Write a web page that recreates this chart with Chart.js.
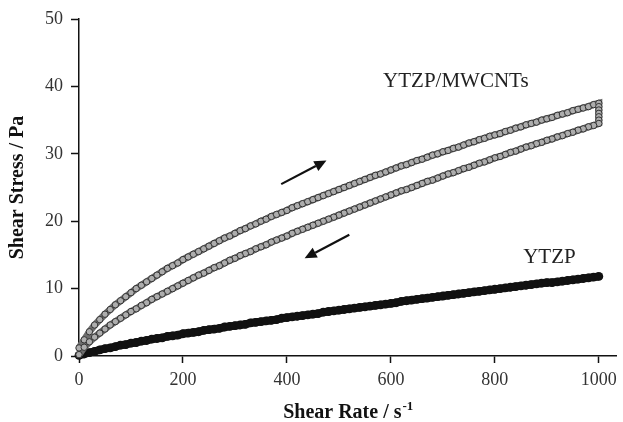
<!DOCTYPE html>
<html>
<head>
<meta charset="utf-8">
<script src="https://cdn.jsdelivr.net/npm/chart.js@4"></script>
<style>
  body { margin: 0; background: #fff; }
</style>
</head>
<body>
<canvas id="rheoChart" width="623" height="422"></canvas>
<script>
// shear rate (s^-1), one reading every 10
const shearRate = [
  0, 10, 20, 30, 40, 50, 60, 70, 80, 90, 100,
  110, 120, 130, 140, 150, 160, 170, 180, 190, 200,
  210, 220, 230, 240, 250, 260, 270, 280, 290, 300,
  310, 320, 330, 340, 350, 360, 370, 380, 390, 400,
  410, 420, 430, 440, 450, 460, 470, 480, 490, 500,
  510, 520, 530, 540, 550, 560, 570, 580, 590, 600,
  610, 620, 630, 640, 650, 660, 670, 680, 690, 700,
  710, 720, 730, 740, 750, 760, 770, 780, 790, 800,
  810, 820, 830, 840, 850, 860, 870, 880, 890, 900,
  910, 920, 930, 940, 950, 960, 970, 980, 990, 1000
];

// YTZP/MWCNTs, ramp up
const stressUp = [
  1.2, 2.4, 3.6, 4.6, 5.4, 6.2, 6.9, 7.6, 8.2, 8.8, 9.4,
  10.0, 10.5, 11.0, 11.5, 12.0, 12.5, 13.0, 13.4, 13.8, 14.3,
  14.7, 15.1, 15.5, 15.9, 16.3, 16.7, 17.1, 17.5, 17.8, 18.2,
  18.6, 18.9, 19.3, 19.6, 20.0, 20.3, 20.7, 21.0, 21.3, 21.6,
  22.0, 22.3, 22.6, 22.9, 23.2, 23.5, 23.8, 24.1, 24.4, 24.7,
  25.0, 25.3, 25.6, 25.9, 26.2, 26.5, 26.8, 27.0, 27.3, 27.6,
  27.9, 28.2, 28.4, 28.7, 29.0, 29.2, 29.5, 29.8, 30.0, 30.3,
  30.5, 30.8, 31.0, 31.3, 31.6, 31.8, 32.1, 32.3, 32.6, 32.8,
  33.0, 33.3, 33.5, 33.8, 34.0, 34.3, 34.5, 34.7, 35.0, 35.2,
  35.4, 35.7, 35.9, 36.1, 36.4, 36.6, 36.8, 37.0, 37.3, 37.5
];

// YTZP/MWCNTs, hold at 1000 s^-1
const holdStress = [37.0, 36.5, 36.0, 35.5, 35.0];

// YTZP/MWCNTs, ramp down (listed by rising shear rate)
const stressDown = [
  0.2, 1.3, 2.1, 2.8, 3.4, 4.0, 4.6, 5.1, 5.6, 6.1, 6.6,
  7.0, 7.5, 7.9, 8.4, 8.8, 9.2, 9.6, 10.0, 10.4, 10.8,
  11.2, 11.6, 12.0, 12.3, 12.7, 13.1, 13.4, 13.8, 14.2, 14.5,
  14.9, 15.2, 15.5, 15.9, 16.2, 16.5, 16.9, 17.2, 17.5, 17.8,
  18.2, 18.5, 18.8, 19.1, 19.4, 19.7, 20.0, 20.3, 20.6, 20.9,
  21.2, 21.5, 21.8, 22.1, 22.4, 22.7, 23.0, 23.3, 23.6, 23.9,
  24.2, 24.5, 24.7, 25.0, 25.3, 25.6, 25.9, 26.1, 26.4, 26.7,
  27.0, 27.2, 27.5, 27.8, 28.0, 28.3, 28.6, 28.8, 29.1, 29.4,
  29.6, 29.9, 30.2, 30.4, 30.7, 31.0, 31.2, 31.5, 31.7, 32.0,
  32.2, 32.5, 32.7, 33.0, 33.2, 33.5, 33.7, 34.0, 34.2, 34.5
];

// YTZP
const stressYTZP = [
  0.1, 0.3, 0.5, 0.7, 0.9, 1.1, 1.2, 1.4, 1.6, 1.7, 1.9,
  2.0, 2.2, 2.3, 2.5, 2.6, 2.7, 2.9, 3.0, 3.1, 3.3,
  3.4, 3.5, 3.6, 3.8, 3.9, 4.0, 4.1, 4.3, 4.4, 4.5,
  4.6, 4.7, 4.9, 5.0, 5.1, 5.2, 5.3, 5.4, 5.6, 5.7,
  5.8, 5.9, 6.0, 6.1, 6.2, 6.3, 6.5, 6.6, 6.7, 6.8,
  6.9, 7.0, 7.1, 7.2, 7.3, 7.4, 7.5, 7.6, 7.7, 7.8,
  7.9, 8.1, 8.2, 8.3, 8.4, 8.5, 8.6, 8.7, 8.8, 8.9,
  9.0, 9.1, 9.2, 9.3, 9.4, 9.5, 9.6, 9.7, 9.8, 9.9,
  10.0, 10.1, 10.2, 10.3, 10.4, 10.5, 10.6, 10.7, 10.8, 10.9,
  10.9, 11.0, 11.1, 11.2, 11.3, 11.4, 11.5, 11.6, 11.7, 11.8
];

const xTicks = [0, 200, 400, 600, 800, 1000];
const yTicks = [0, 10, 20, 30, 40, 50];

// text on the plot, in data units
const curveLabels = [
  { text: "YTZP/MWCNTs", x: 725, y: 40.7 },
  { text: "YTZP", x: 905, y: 14.6 },
];
// sweep direction arrows (tail -> head), in data units
const arrows = [
  { x0: 389, y0: 25.5, x1: 476, y1: 29.0 },
  { x0: 520, y0: 18.0, x1: 434, y1: 14.5 },
];

const serif = "'Liberation Serif', 'Times New Roman', serif";

function pairs(xs, ys) {
  return ys.map((v, i) => ({ x: xs[i], y: v }));
}

const loopData = pairs(shearRate, stressUp)
  .concat(holdStress.map((v) => ({ x: 1000, y: v })))
  .concat(pairs(shearRate, stressDown).reverse());

function drawArrow(ctx, x0, y0, x1, y1) {
  const ang = Math.atan2(y1 - y0, x1 - x0);
  const head = 12, half = 5.5;
  const bx = x1 - head * Math.cos(ang), by = y1 - head * Math.sin(ang);
  ctx.beginPath();
  ctx.moveTo(x0, y0);
  ctx.lineTo(bx, by);
  ctx.lineWidth = 2.2;
  ctx.strokeStyle = "#111";
  ctx.stroke();
  ctx.beginPath();
  ctx.moveTo(x1, y1);
  ctx.lineTo(bx + half * Math.sin(ang), by - half * Math.cos(ang));
  ctx.lineTo(bx - half * Math.sin(ang), by + half * Math.cos(ang));
  ctx.closePath();
  ctx.fillStyle = "#111";
  ctx.fill();
}

const overlay = {
  id: "overlay",
  afterDraw(chart) {
    const ctx = chart.ctx;
    const sx = chart.scales.x, sy = chart.scales.y;
    ctx.save();
    ctx.font = "21px " + serif;
    ctx.fillStyle = "#222";
    ctx.textAlign = "center";
    ctx.textBaseline = "middle";
    curveLabels.forEach((l) => {
      ctx.fillText(l.text, sx.getPixelForValue(l.x), sy.getPixelForValue(l.y));
    });
    arrows.forEach((a) => {
      drawArrow(ctx,
        sx.getPixelForValue(a.x0), sy.getPixelForValue(a.y0),
        sx.getPixelForValue(a.x1), sy.getPixelForValue(a.y1));
    });

    // x axis title with superscript
    const main = "Shear Rate / s", sup = "-1";
    ctx.font = "bold 20px " + serif;
    const w1 = ctx.measureText(main).width;
    ctx.font = "bold 13px " + serif;
    const w2 = ctx.measureText(sup).width;
    const cx = (chart.chartArea.left + chart.chartArea.right) / 2;
    const left = cx - (w1 + w2) / 2;
    const base = 418;
    ctx.textAlign = "left";
    ctx.textBaseline = "alphabetic";
    ctx.fillStyle = "#111";
    ctx.font = "bold 20px " + serif;
    ctx.fillText(main, left, base);
    ctx.font = "bold 13px " + serif;
    ctx.fillText(sup, left + w1 + 1, base - 8);
    ctx.restore();
  },
};

new Chart(document.getElementById("rheoChart"), {
  type: "scatter",
  data: {
    datasets: [
      {
        label: "YTZP/MWCNTs",
        data: loopData,
        showLine: true,
        borderColor: "#6e6e6e",
        borderWidth: 7,
        pointRadius: 3.2,
        pointBorderWidth: 1,
        pointBorderColor: "#333",
        pointBackgroundColor: "#adadad",
        clip: false,
      },
      {
        label: "YTZP",
        data: pairs(shearRate, stressYTZP),
        showLine: true,
        borderColor: "#111",
        borderWidth: 8,
        pointRadius: 4.4,
        pointBorderWidth: 0,
        pointBackgroundColor: "#111",
        clip: false,
      },
    ],
  },
  options: {
    responsive: false,
    animation: false,
    layout: { padding: { top: 19, right: 2, bottom: 0, left: 0 } },
    plugins: { legend: { display: false }, tooltip: { enabled: false } },
    scales: {
      x: {
        type: "linear",
        min: 0,
        max: 1034,
        afterBuildTicks: (s) => { s.ticks = xTicks.map((v) => ({ value: v })); },
        afterFit: (s) => { s.height = 66; },
        grid: { drawOnChartArea: false, drawTicks: true, tickLength: 7, tickColor: "#111", tickWidth: 1.5 },
        border: { color: "#111", width: 1.5 },
        ticks: {
          font: { family: serif, size: 18 }, color: "#333", padding: 6, maxRotation: 0,
          callback: (v) => String(v),
        },
      },
      y: {
        type: "linear",
        min: 0,
        max: 50,
        afterBuildTicks: (s) => { s.ticks = yTicks.map((v) => ({ value: v })); },
        afterFit: (s) => { s.width = 79; },
        grid: { drawOnChartArea: false, drawTicks: true, tickLength: 8, tickColor: "#111", tickWidth: 1.5 },
        border: { color: "#111", width: 1.5 },
        ticks: { font: { family: serif, size: 18 }, color: "#333", padding: 8 },
        title: {
          display: true,
          text: "Shear Stress / Pa",
          font: { family: serif, size: 20, weight: "bold" },
          color: "#111",
          padding: { top: 6, bottom: 0 },
        },
      },
    },
  },
  plugins: [overlay],
});
</script>
</body>
</html>
